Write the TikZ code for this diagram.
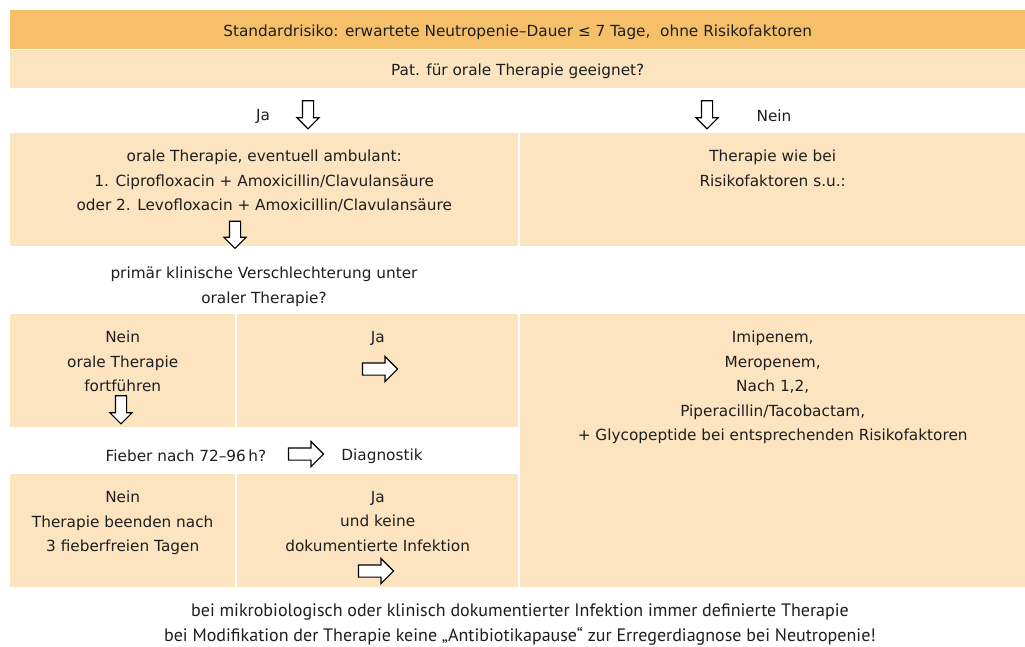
\documentclass[tikz,border=0pt]{standalone}
\usepackage{fontspec}
\setmainfont{DejaVu Sans}
\newfontfamily\notefont{PT Sans}
\usetikzlibrary{positioning, shapes.arrows}
\definecolor{bardark}{RGB}{246,192,106}
\definecolor{barlight}{RGB}{252,228,192}
\definecolor{inkgray}{RGB}{30,30,30}

\begin{document}
\begin{tikzpicture}[x=1pt,y=-1pt,
    every node/.style={inner sep=0pt,align=center,text=inkgray,font=\fontsize{15.3}{24.5}\selectfont},
    panel/.style={fill=barlight,anchor=north west,minimum width=#1},
    arrowdown/.style={single arrow,draw=black,fill=white,line width=1.1pt,shape border rotate=270,
        minimum height=28pt,inner sep=5pt,single arrow head extend=5.5pt},
    arrowright/.style={single arrow,draw=black,fill=white,line width=1.1pt,
        minimum height=35pt,inner sep=5.5pt,single arrow head extend=6.5pt}]
    \useasboundingbox (0,0) rectangle (1025,646);

    % Header bars
    \node[panel=1015pt,fill=bardark,minimum height=39pt] (risk) at (10,10) {};
    \node[yshift=-2.5pt] at (risk.center) (risktxt) {Standardrisiko: erwartete Neutropenie--Dauer ≤ 7 Tage,\ \ ohne Risikofaktoren};
    \node[panel=1015pt,minimum height=38pt] (oralq) at (10,50) {};
    \node[yshift=-2.5pt] at (oralq.center) (oralqtxt) {Pat. für orale Therapie geeignet?};

    % First decision
    \node (ja1) at (263,116) {Ja};
    \node[arrowdown] (arrja1) at (308,112) {};
    \node[arrowdown] (arrnein1) at (707,112) {};
    \node (nein1) at (774,116) {Nein};

    % Oral therapy / no oral therapy
    \node[panel=508pt,minimum height=113pt] (oral) at (10,133) {};
    \node[below=17pt of oral.north] (oraltxt) {orale Therapie, eventuell ambulant:\\
        1. Ciprofloxacin + Amoxicillin/Clavulansäure\\
        oder 2. Levofloxacin + Amoxicillin/Clavulansäure};
    \node[arrowdown,minimum height=27pt] (arroral) at (235,232) {};
    \node[panel=505pt,minimum height=113pt] (wiebei) at (520,133) {};
    \node[below=17pt of wiebei.north] (wiebeitxt) {Therapie wie bei\\ Risikofaktoren s.u.:};

    \node (verschl) at (264,287) {primär klinische Verschlechterung unter\\ oraler Therapie?};

    % Second decision
    \node[panel=225pt,minimum height=113pt] (fort) at (10,314) {};
    \node[below=17pt of fort.north] (forttxt) {Nein\\ orale Therapie\\ fortführen};
    \node[arrowdown] (arrfort) at (121,407) {};
    \node[panel=281pt,minimum height=113pt] (ja2) at (237,314) {};
    \node[below=17pt of ja2.north] (ja2txt) {Ja};
    \node[arrowright] (arrja2) at (377,369) {};
    \node[panel=505pt,minimum height=273pt] (carba) at (520,314) {};
    \node[below=17pt of carba.north] (carbatxt) {Imipenem,\\ Meropenem,\\ Nach 1,2,\\
        Piperacillin/Tacobactam,\\ + Glycopeptide bei entsprechenden Risikofaktoren};

    % Fever
    \node (fieber) at (186,456) {Fieber nach 72--96\,h?};
    \node[arrowright] (arrfieber) at (303,454) {};
    \node (diagn) at (382,456) {Diagnostik};

    \node[panel=225pt,minimum height=113pt] (beenden) at (10,474) {};
    \node[below=17pt of beenden.north] (beendentxt) {Nein\\ Therapie beenden nach\\ 3 fieberfreien Tagen};
    \node[panel=281pt,minimum height=113pt] (keine) at (237,474) {};
    \node[below=17pt of keine.north] (keinetxt) {Ja\\ und keine\\ dokumentierte Infektion};
    \node[arrowright] (arrkeine) at (373,571) {};

    % Notes
    \node[font=\notefont\fontsize{18}{25}\selectfont] (notes) at (520,625)
        {bei mikrobiologisch oder klinisch dokumentierter Infektion immer definierte Therapie\\
         bei Modifikation der Therapie keine „Antibiotikapause“ zur Erregerdiagnose bei Neutropenie!};
\end{tikzpicture}
\end{document}
